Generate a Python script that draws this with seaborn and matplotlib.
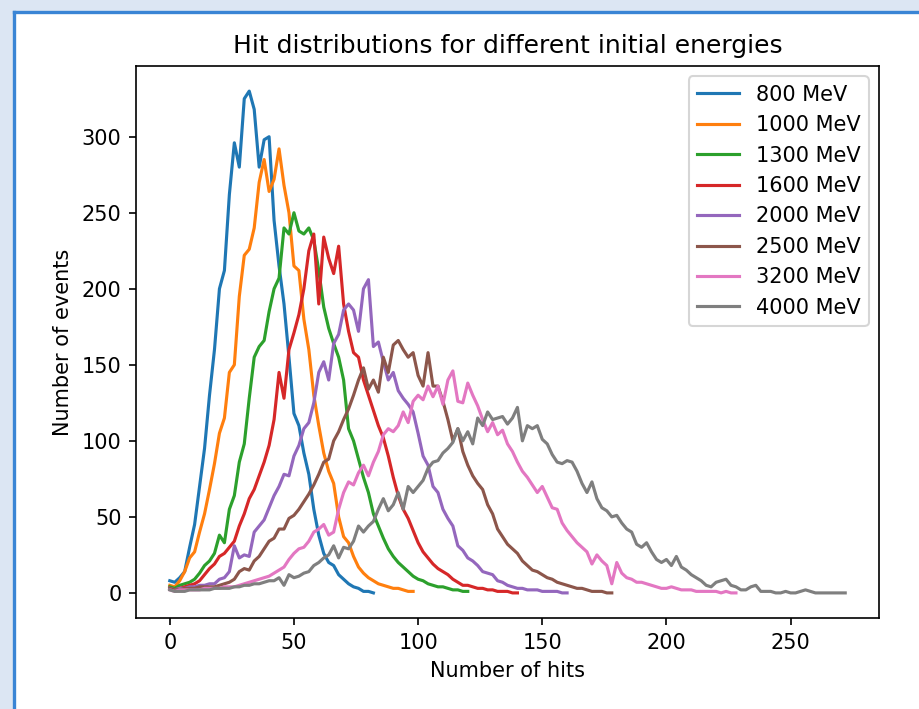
import numpy as np
import pandas as pd
import matplotlib
matplotlib.use("Agg")
import matplotlib.pyplot as plt
from matplotlib.patches import Rectangle
from matplotlib.lines import Line2D
import seaborn as sns

# ---------------- data (counts sampled every 2 hits, starting at 0) ----------------
HIT_STEP = 2
energies = ["800 MeV", "1000 MeV", "1300 MeV", "1600 MeV",
            "2000 MeV", "2500 MeV", "3200 MeV", "4000 MeV"]

counts_800 = [8, 7, 10, 14, 30, 45, 70, 95, 130, 160, 200, 212, 262, 296, 280, 325,
              330, 318, 280, 298, 300, 245, 215, 190, 155, 118, 110, 92, 78, 55, 38,
              26, 20, 18, 12, 9, 6, 4, 3, 1, 1, 0]
counts_1000 = [5, 4, 8, 14, 23, 27, 40, 52, 68, 85, 105, 115, 145, 150, 195, 222, 226,
               240, 270, 285, 264, 272, 292, 268, 250, 215, 212, 180, 160, 130, 110, 92,
               80, 72, 50, 37, 33, 24, 17, 13, 10, 8, 6, 5, 4, 3, 3, 2, 1, 1]
counts_1300 = [4, 3, 5, 6, 7, 9, 13, 18, 21, 26, 38, 33, 55, 64, 86, 98, 128, 155, 162,
               166, 185, 200, 207, 240, 236, 250, 238, 236, 240, 232, 212, 188, 174, 164,
               155, 140, 108, 100, 88, 76, 66, 52, 44, 36, 29, 24, 20, 17, 14, 11, 9, 8,
               6, 5, 4, 4, 3, 2, 2, 1, 1]
counts_1600 = [3, 2, 3, 4, 5, 6, 8, 12, 16, 19, 24, 26, 30, 34, 44, 52, 62, 68, 77, 86,
               97, 114, 145, 128, 160, 171, 183, 200, 225, 236, 190, 234, 220, 210, 228,
               190, 172, 158, 155, 140, 130, 120, 110, 102, 90, 76, 64, 55, 49, 41, 33,
               27, 23, 19, 16, 14, 12, 9, 7, 5, 5, 4, 3, 3, 2, 2, 1, 1, 1, 0, 0]
counts_2000 = [3, 2, 3, 3, 4, 4, 5, 5, 6, 6, 9, 10, 14, 31, 23, 25, 24, 40, 44, 48, 56,
               64, 70, 78, 77, 90, 97, 108, 112, 125, 145, 152, 140, 164, 170, 186, 190,
               186, 172, 200, 206, 162, 165, 152, 140, 145, 133, 128, 124, 119, 105, 90,
               84, 70, 66, 55, 49, 44, 31, 28, 23, 21, 18, 14, 13, 12, 8, 7, 5, 4, 3, 3,
               2, 2, 2, 1, 1, 1, 1, 0, 0]
counts_2500 = [3, 2, 2, 3, 3, 3, 4, 4, 4, 4, 5, 6, 7, 9, 14, 16, 15, 21, 24, 29, 34, 36,
               42, 42, 49, 51, 55, 60, 65, 71, 78, 86, 88, 100, 106, 114, 121, 130, 140,
               148, 134, 140, 132, 155, 145, 163, 166, 160, 155, 158, 143, 136, 158, 136,
               136, 126, 114, 100, 108, 93, 84, 77, 72, 68, 58, 52, 42, 37, 32, 29, 26,
               21, 18, 15, 14, 12, 10, 9, 7, 6, 5, 4, 3, 3, 2, 1, 1, 1, 0, 0]
counts_3200 = [2, 1, 2, 2, 2, 2, 2, 3, 3, 3, 3, 4, 4, 4, 5, 6, 7, 8, 9, 10, 11, 13, 15,
               17, 22, 26, 29, 30, 34, 40, 42, 45, 38, 40, 55, 66, 73, 71, 79, 84, 77, 86,
               93, 104, 108, 106, 110, 119, 112, 126, 130, 127, 136, 129, 136, 124, 140,
               146, 126, 125, 138, 130, 123, 114, 106, 112, 104, 107, 98, 93, 86, 80, 76,
               71, 66, 70, 63, 56, 55, 46, 41, 37, 33, 30, 27, 19, 25, 21, 18, 6, 20, 13,
               10, 9, 7, 7, 6, 5, 4, 3, 3, 4, 3, 2, 2, 2, 1, 1, 1, 1, 1, 0, 1, 0, 0]
counts_4000 = [2, 1, 1, 1, 2, 2, 2, 2, 2, 3, 3, 3, 3, 4, 4, 5, 5, 6, 6, 7, 8, 8, 10, 5,
               12, 10, 11, 13, 14, 18, 20, 23, 25, 31, 23, 30, 29, 34, 44, 40, 44, 47, 55,
               62, 54, 58, 66, 55, 70, 66, 70, 74, 82, 86, 87, 92, 95, 99, 108, 100, 106,
               98, 115, 110, 119, 114, 115, 116, 111, 115, 122, 100, 110, 108, 110, 101,
               98, 91, 86, 85, 87, 86, 80, 72, 66, 73, 62, 56, 54, 50, 51, 46, 42, 40, 32,
               30, 33, 27, 22, 20, 22, 18, 24, 17, 15, 12, 10, 8, 5, 4, 7, 8, 9, 5, 4, 2,
               2, 4, 5, 1, 1, 1, 0, 0, 1, 0, 0, 1, 2, 1, 0, 0, 0, 0, 0, 0, 0]

series = [counts_800, counts_1000, counts_1300, counts_1600,
          counts_2000, counts_2500, counts_3200, counts_4000]

tab10 = ["#1f77b4", "#ff7f0e", "#2ca02c", "#d62728",
         "#9467bd", "#8c564b", "#e377c2", "#7f7f7f"]

# ---------------- long table ----------------
rows = []
for label, vals in zip(energies, series):
    hits = np.arange(len(vals)) * HIT_STEP
    rows.append(pd.DataFrame({"hits": hits, "events": vals, "energy": label}))
df = pd.concat(rows, ignore_index=True)

# ---------------- figure ----------------
W, H, DPI = 919, 709, 150
fig = plt.figure(figsize=(W / DPI, H / DPI), dpi=DPI)
fig.patch.set_facecolor("#dce6f3")

# white panel with blue border (left / top)
bx, by = 14 / W, 12 / H
fig.add_artist(Rectangle((bx, 0), 1 - bx, 1 - by, transform=fig.transFigure,
                         facecolor="white", edgecolor="none", zorder=0))
fig.add_artist(Line2D([bx, bx], [0, 1 - by], transform=fig.transFigure,
                      color="#3a85d5", linewidth=1.6, zorder=1))
fig.add_artist(Line2D([bx, 1], [1 - by, 1 - by], transform=fig.transFigure,
                      color="#3a85d5", linewidth=1.6, zorder=1))

ax = fig.add_axes([136 / W, 1 - 618 / H, (879 - 136) / W, (618 - 66) / H])

sns.lineplot(data=df, x="hits", y="events", hue="energy", hue_order=energies,
             palette=tab10, linewidth=1.5, estimator=None, sort=False, ax=ax)

ax.set_title("Hit distributions for different initial energies", fontsize=12)
ax.set_xlabel("Number of hits", fontsize=10)
ax.set_ylabel("Number of events", fontsize=10)
ax.set_xticks([0, 50, 100, 150, 200, 250])
ax.set_yticks([0, 50, 100, 150, 200, 250, 300])
ax.tick_params(labelsize=10)
sns.move_legend(ax, "upper right", title=None, fontsize=10)

fig.savefig("out.png", dpi=DPI, facecolor=fig.get_facecolor())
